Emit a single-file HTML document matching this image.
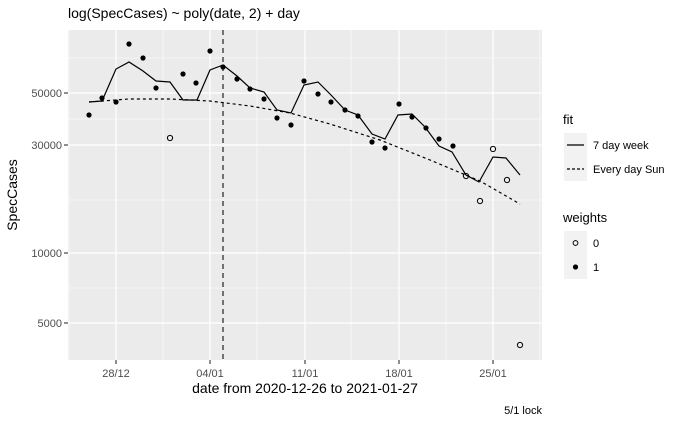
<!DOCTYPE html>
<html><head><meta charset="utf-8"><style>
body{margin:0;background:#fff;}
svg text{font-family:"Liberation Sans",sans-serif;}
</style></head><body>
<svg width="688" height="425" viewBox="0 0 688 425">
<rect width="688" height="425" fill="#fff"/>
<text x="68" y="18" font-size="14" fill="#000">log(SpecCases) ~ poly(date, 2) + day</text>
<rect x="68" y="30" width="474" height="330" fill="#ebebeb"/>
<g stroke="#fff" stroke-width="0.6">
<line x1="68" x2="542" y1="58" y2="58"/><line x1="68" x2="542" y1="119" y2="119"/><line x1="68" x2="542" y1="200" y2="200"/><line x1="68" x2="542" y1="288" y2="288"/>
<line y1="30" y2="360" x1="163" x2="163"/><line y1="30" y2="360" x1="257" x2="257"/><line y1="30" y2="360" x1="351" x2="351"/><line y1="30" y2="360" x1="446" x2="446"/><line y1="30" y2="360" x1="540" x2="540"/><line y1="30" y2="360" x1="69" x2="69"/>
</g>
<g stroke="#fff" stroke-width="1.2">
<line x1="68" x2="542" y1="93" y2="93"/><line x1="68" x2="542" y1="145" y2="145"/><line x1="68" x2="542" y1="253" y2="253"/><line x1="68" x2="542" y1="323" y2="323"/>
<line y1="30" y2="360" x1="116" x2="116"/><line y1="30" y2="360" x1="210" x2="210"/><line y1="30" y2="360" x1="305" x2="305"/><line y1="30" y2="360" x1="399" x2="399"/><line y1="30" y2="360" x1="493" x2="493"/>
</g>
<g stroke="#333" stroke-width="1.1">
<line x1="64" x2="68" y1="93" y2="93"/><line x1="64" x2="68" y1="145" y2="145"/><line x1="64" x2="68" y1="253" y2="253"/><line x1="64" x2="68" y1="323" y2="323"/>
<line y1="360" y2="364" x1="116" x2="116"/><line y1="360" y2="364" x1="210" x2="210"/><line y1="360" y2="364" x1="305" x2="305"/><line y1="360" y2="364" x1="399" x2="399"/><line y1="360" y2="364" x1="493" x2="493"/>
</g>
<g font-size="11" fill="#4d4d4d" text-anchor="end">
<text x="62" y="97">50000</text><text x="62" y="149">30000</text><text x="62" y="257">10000</text><text x="62" y="327">5000</text>
</g>
<g font-size="11" fill="#4d4d4d" text-anchor="middle">
<text x="116" y="377">28/12</text><text x="210" y="377">04/01</text><text x="305" y="377">11/01</text><text x="399" y="377">18/01</text><text x="493" y="377">25/01</text>
</g>
<text x="305" y="393" font-size="14" text-anchor="middle">date from 2020-12-26 to 2021-01-27</text>
<text transform="translate(17,195) rotate(-90)" font-size="14" text-anchor="middle">SpecCases</text>
<text x="542" y="414" font-size="11" text-anchor="end">5/1 lock</text>
<line x1="223" x2="223" y1="30" y2="360" stroke="#222" stroke-width="1.2" stroke-dasharray="5,4"/>
<polyline fill="none" stroke="#000" stroke-width="1.2" stroke-dasharray="3,3" points="89,102 129,99 170,99 210,101 250,106 290,113 330,124 380,140 430,160 480,181 520,204"/>
<polyline fill="none" stroke="#000" stroke-width="1.2" points="89,102 102,101 116,69 129,62 143,71 156,81 170,82 183,100 197,100 210,70 223,65 237,76 250,88 264,92 277,110 291,113 304,85 318,82 331,95 345,110 358,115 372,134 385,139 398,115 412,114 425,127 439,146 452,152 466,175 479,182 493,157 506,158 520,175"/>
<g fill="#000">
<circle cx="89" cy="115" r="2.6"/><circle cx="102" cy="98" r="2.6"/><circle cx="116" cy="102" r="2.6"/><circle cx="129" cy="44" r="2.6"/><circle cx="143" cy="58" r="2.6"/><circle cx="156" cy="88" r="2.6"/><circle cx="183" cy="74" r="2.6"/><circle cx="196" cy="83" r="2.6"/><circle cx="210" cy="51" r="2.6"/><circle cx="223" cy="67" r="2.6"/><circle cx="237" cy="79" r="2.6"/><circle cx="250" cy="89" r="2.6"/><circle cx="264" cy="99" r="2.6"/><circle cx="277" cy="118" r="2.6"/><circle cx="291" cy="125" r="2.6"/><circle cx="304" cy="81" r="2.6"/><circle cx="318" cy="94" r="2.6"/><circle cx="331" cy="102" r="2.6"/><circle cx="345" cy="110" r="2.6"/><circle cx="358" cy="116" r="2.6"/><circle cx="372" cy="142" r="2.6"/><circle cx="385" cy="148" r="2.6"/><circle cx="399" cy="104" r="2.6"/><circle cx="412" cy="117" r="2.6"/><circle cx="426" cy="128" r="2.6"/><circle cx="439" cy="139" r="2.6"/><circle cx="453" cy="146" r="2.6"/>
</g>
<g fill="none" stroke="#000" stroke-width="1">
<circle cx="170" cy="138" r="2.6"/><circle cx="466" cy="176" r="2.6"/><circle cx="480" cy="201" r="2.6"/><circle cx="493" cy="149" r="2.6"/><circle cx="507" cy="180" r="2.6"/><circle cx="520" cy="345" r="2.6"/>
</g>
<text x="563" y="124" font-size="13">fit</text>
<rect x="564" y="133" width="23" height="48" fill="#f2f2f2"/>
<line x1="567" x2="584" y1="145" y2="145" stroke="#000" stroke-width="1.2"/>
<line x1="567" x2="584" y1="169" y2="169" stroke="#000" stroke-width="1.2" stroke-dasharray="3,2"/>
<text x="593" y="149" font-size="11">7 day week</text>
<text x="593" y="173" font-size="11">Every day Sun</text>
<text x="563" y="222" font-size="13">weights</text>
<rect x="564" y="231" width="23" height="48" fill="#f2f2f2"/>
<circle cx="575.5" cy="243" r="2.4" fill="none" stroke="#000"/>
<circle cx="575.5" cy="267" r="2.6" fill="#000"/>
<text x="593" y="247" font-size="11">0</text>
<text x="593" y="271" font-size="11">1</text>
</svg>
</body></html>
